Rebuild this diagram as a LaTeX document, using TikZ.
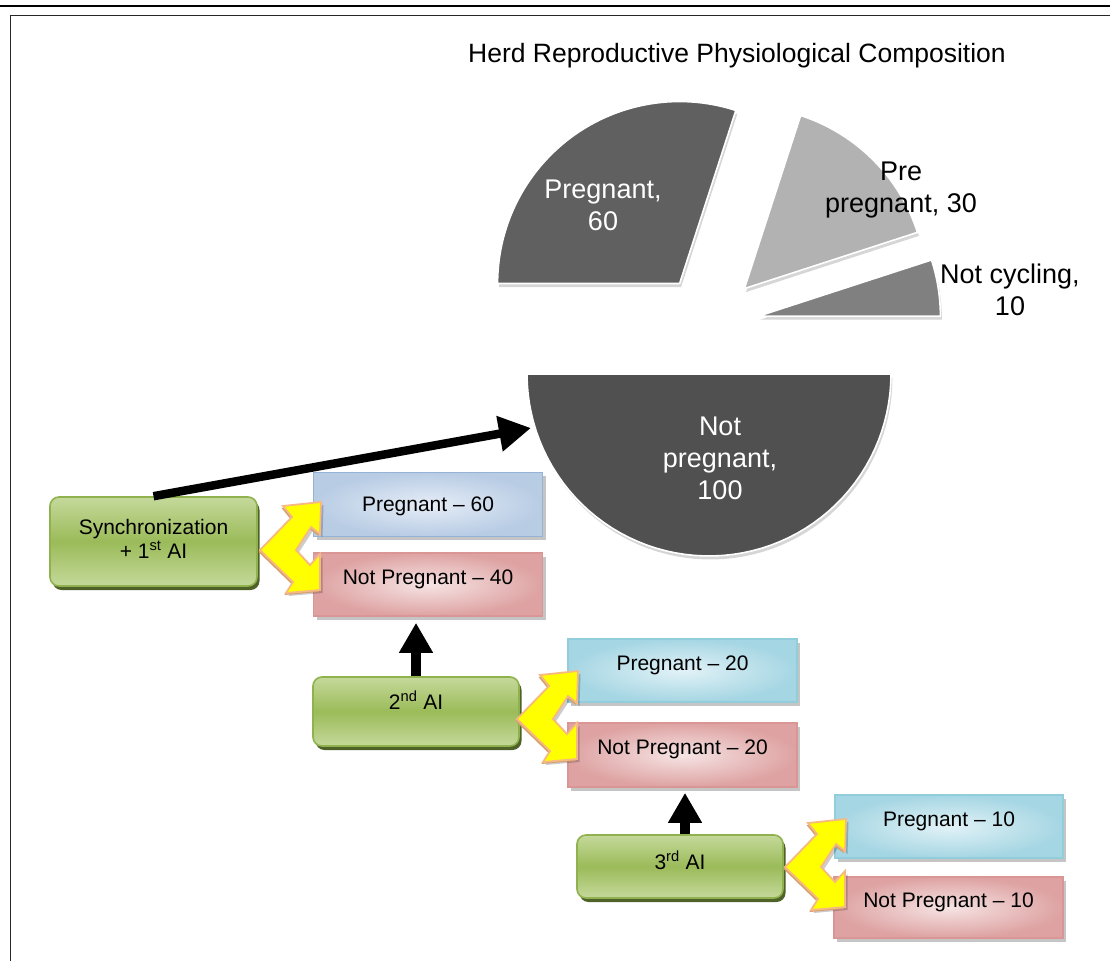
\documentclass[tikz,border=0pt]{standalone}
\usepackage{fontspec}
\setmainfont{Liberation Sans}
\usetikzlibrary{arrows.meta,shadows}

\definecolor{slPreg}{RGB}{96,96,96}
\definecolor{slPre}{RGB}{178,178,178}
\definecolor{slNC}{RGB}{128,128,128}
\definecolor{slNP}{RGB}{80,80,80}
\definecolor{grnLight}{RGB}{197,217,155}
\definecolor{grnMid}{RGB}{155,187,89}
\definecolor{grnEdge}{RGB}{143,178,78}
\definecolor{grnShadow}{RGB}{79,98,40}
\definecolor{bluOut}{RGB}{184,204,228}
\definecolor{bluIn}{RGB}{230,237,247}
\definecolor{bluEdge}{RGB}{149,179,215}
\definecolor{cyaOut}{RGB}{165,214,227}
\definecolor{cyaIn}{RGB}{226,242,247}
\definecolor{cyaEdge}{RGB}{146,205,220}
\definecolor{redOut}{RGB}{222,162,162}
\definecolor{redIn}{RGB}{246,228,228}
\definecolor{redEdge}{RGB}{217,150,148}
\definecolor{chevFill}{RGB}{255,255,0}
\definecolor{chevEdge}{RGB}{247,185,130}
\definecolor{chevSide}{RGB}{214,160,110}

\newcommand{\bxfont}{\fontsize{21}{24}\selectfont}
\newcommand{\pifont}{\fontsize{27}{32}\selectfont}
% text whose baseline sits #1 above the node centre, taking no vertical room
\newcommand{\lift}[2]{\raisebox{#1}[0pt][0pt]{#2}}

% one exploded pie slice: centre x, centre y, start angle, end angle, colour
\newcommand{\pieslice}[5]{%
  \fill[black, opacity=0.16, xshift=1.5pt, yshift=-3.5pt]
    (#1,#2) -- plot[domain=#3:#4, samples=60] ({#1+182*cos(\x)},{#2-182*sin(\x)}) -- cycle;
  \filldraw[fill=#5, draw=white, line width=1.6pt, line join=round]
    (#1,#2) -- plot[domain=#3:#4, samples=60] ({#1+182*cos(\x)},{#2-182*sin(\x)}) -- cycle;}

% outline of the split arrow, its left point at the origin
\newcommand{\chevpath}{(0,0) -- (32,-33) -- (23,-44) -- (61,-48) -- (60,-16) -- (51,-23)
  -- (36,0) -- (50,15) -- (60,4) -- (60,40) -- (26,43) -- (33,32) -- cycle}

\begin{document}
\begin{tikzpicture}[x=1pt, y=-1pt,
  lbl/.style={align=center, inner sep=0pt, font=\pifont},
  greenbox/.style={draw=grnEdge, line width=1.6pt, rounded corners=9pt,
    top color=grnLight, bottom color=grnLight, middle color=grnMid,
    drop shadow={shadow xshift=2.5pt, shadow yshift=-4pt, fill=grnShadow, opacity=1},
    font=\bxfont, align=center, inner sep=0pt},
  outbox/.style={line width=1.6pt, font=\bxfont, inner sep=0pt,
    minimum width=229pt, minimum height=64pt,
    drop shadow={shadow xshift=3pt, shadow yshift=-3.5pt, fill=black!45, opacity=0.5}},
  bluebox/.style={outbox, draw=bluEdge, inner color=bluIn, outer color=bluOut},
  cyanbox/.style={outbox, draw=cyaEdge, inner color=cyaIn, outer color=cyaOut},
  redbox/.style={outbox, draw=redEdge, inner color=redIn, outer color=redOut},
  uparrow/.style={-{Triangle[length=30pt,width=32pt]}, line width=10pt},
  bigarrow/.style={-{Triangle[length=32pt,width=34pt]}, line width=8.5pt},
  chevron/.pic={
    \fill[black, opacity=0.2, xshift=2.5pt, yshift=-3pt] \chevpath;
    \fill[chevSide, xshift=-1.5pt, yshift=-2pt] \chevpath;
    \filldraw[fill=chevFill, draw=chevEdge, line width=1.8pt, line join=miter] \chevpath;
  }
]
\useasboundingbox (0,0) rectangle (1110,961);
\fill[white] (0,0) rectangle (1110,961);

% page frame
\draw[line width=2.4pt, black] (0,6) -- (1110,6);
\draw[line width=1.6pt, black!85] (10.5,961) -- (10.5,15.5) -- (1110,15.5);

% exploded pie chart
\pieslice{679.6}{283.5}{72}{180}{slPreg}
\pieslice{744.4}{288.6}{18}{72}{slPre}
\pieslice{758.4}{316.2}{0}{18}{slNC}
\pieslice{709}{374}{180}{360}{slNP}

\node[lbl, font=\fontsize{26.5}{30}\selectfont] (title) at (737,56) {Herd Reproductive Physiological Composition};
\node[lbl, text=white] (lPreg) at (603,205) {Pregnant,\\60};
\node[lbl] (lPre) at (901,190) {Pre\\pregnant, 30};
\node[lbl] (lNC) at (1010,290) {Not cycling,\\10};
\node[lbl, text=white] (lNP) at (720,458) {Not\\pregnant,\\100};
\coordinate (npTip) at (531,428);

% first round
\node[greenbox, minimum width=207pt, minimum height=89pt] (sync) at (153.5,541.5)
  {Synchronization\\+ 1\textsuperscript{st} AI\rule[-6pt]{0pt}{6pt}};
\node[bluebox] (p60) at (428,504.5) {\lift{-7pt}{Pregnant – 60}};
\node[redbox, minimum height=63pt] (np40) at (428,584.5) {\lift{0pt}{Not Pregnant – 40}};

% second round
\node[greenbox, minimum width=206pt, minimum height=69pt] (ai2) at (416,711.5)
  {\lift{2pt}{2\textsuperscript{nd} AI}};
\node[cyanbox, minimum height=63pt] (p20) at (682.5,670.5) {\lift{0.5pt}{Pregnant – 20}};
\node[redbox] (np20) at (682.5,755) {\lift{0.5pt}{Not Pregnant – 20}};

% third round
\node[greenbox, minimum width=206pt, minimum height=63pt] (ai3) at (680,866.5)
  {\lift{-3pt}{3\textsuperscript{rd} AI}};
\node[cyanbox, minimum width=228pt, minimum height=63pt] (p10) at (949,826.5) {\lift{0pt}{Pregnant – 10}};
\node[redbox, minimum height=61pt] (np10) at (948.5,907.5) {\lift{0pt}{Not Pregnant – 10}};

% black arrows
\draw[bigarrow] (sync.north) -- (npTip);
\coordinate (up1) at (ai2.north |- np40.south);
\draw[uparrow] (ai2.north) -- ([yshift=-6pt]up1);
\coordinate (ai3top) at ([xshift=5pt]ai3.north);
\coordinate (up2) at (ai3top |- np20.south);
\draw[uparrow] (ai3top) -- ([yshift=-5pt]up2);

% yellow split arrows
\coordinate (v1) at (260,550);
\coordinate (v2) at (517,719);
\coordinate (v3) at (785,867);
\pic at (v1) {chevron};
\pic at (v2) {chevron};
\pic at (v3) {chevron};
\end{tikzpicture}
\end{document}
